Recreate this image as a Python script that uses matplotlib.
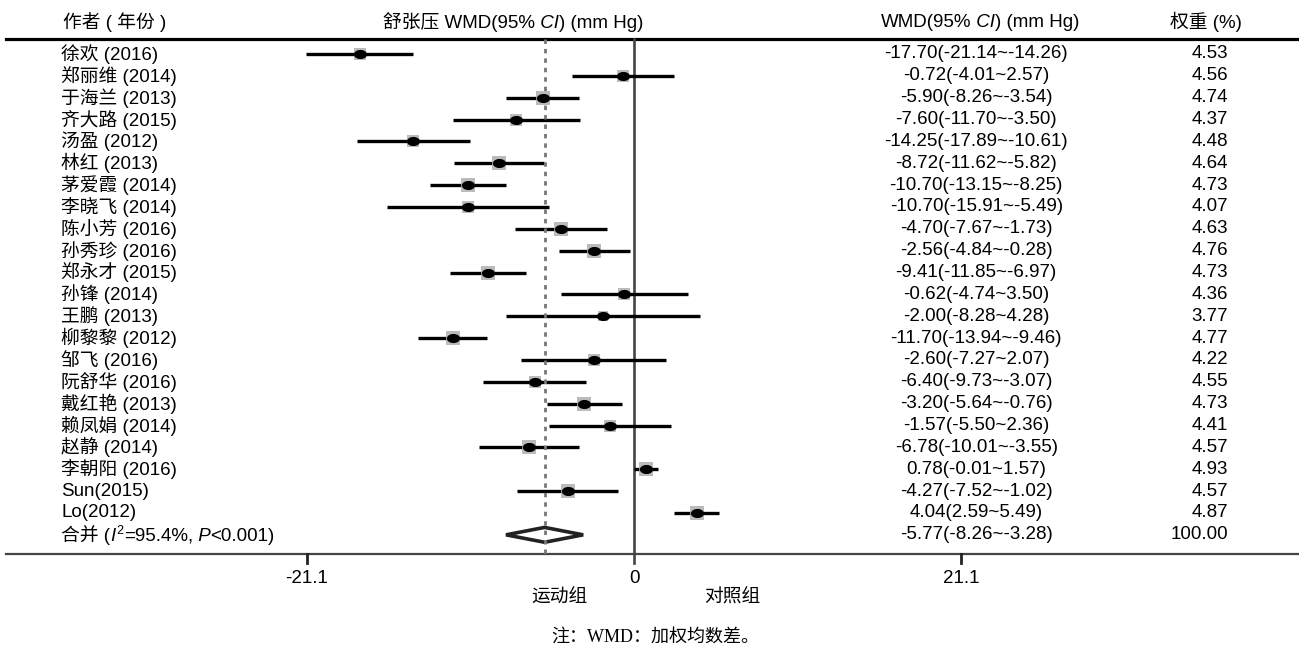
import numpy as np
import matplotlib
matplotlib.use("Agg")
import matplotlib.pyplot as plt
import matplotlib.path as mpath
import matplotlib.transforms as mtransforms

plt.rcParams['font.family'] = ['Liberation Sans', 'Noto Sans CJK SC']

studies = ['徐欢 (2016)', '郑丽维 (2014)', '于海兰 (2013)', '齐大路 (2015)',
           '汤盈 (2012)', '林红 (2013)', '茅爱霞 (2014)', '李晓飞 (2014)',
           '陈小芳 (2016)', '孙秀珍 (2016)', '郑永才 (2015)', '孙锋 (2014)',
           '王鹏 (2013)', '柳黎黎 (2012)', '邹飞 (2016)', '阮舒华 (2016)',
           '戴红艳 (2013)', '赖凤娟 (2014)', '赵静 (2014)', '李朝阳 (2016)',
           'Sun(2015)', 'Lo(2012)']
wmd = [-17.70, -0.72, -5.90, -7.60, -14.25, -8.72, -10.70, -10.70, -4.70, -2.56, -9.41,
       -0.62, -2.00, -11.70, -2.60, -6.40, -3.20, -1.57, -6.78, 0.78, -4.27, 4.04]
ci_lo = [-21.14, -4.01, -8.26, -11.70, -17.89, -11.62, -13.15, -15.91, -7.67, -4.84, -11.85,
         -4.74, -8.28, -13.94, -7.27, -9.73, -5.64, -5.50, -10.01, -0.01, -7.52, 2.59]
ci_hi = [-14.26, 2.57, -3.54, -3.50, -10.61, -5.82, -8.25, -5.49, -1.73, -0.28, -6.97,
         3.50, 4.28, -9.46, 2.07, -3.07, -0.76, 2.36, -3.55, 1.57, -1.02, 5.49]
weights = [4.53, 4.56, 4.74, 4.37, 4.48, 4.64, 4.73, 4.07, 4.63, 4.76, 4.73,
           4.36, 3.77, 4.77, 4.22, 4.55, 4.73, 4.41, 4.57, 4.93, 4.57, 4.87]

pooled_wmd = -5.77
pooled_lo = -8.26
pooled_hi = -3.28
pooled_weight = 100.00

xticks = [-21.1, 0, 21.1]

FS = 13.5

fig = plt.figure(figsize=(12.99, 6.45), dpi=100)
ax = fig.add_axes([0, 0, 1, 1])
ax.set_xlim(-40.91, 42.91)
ax.set_ylim(27.04, -2.47)
ax.axis('off')

n = len(studies)
rows = np.arange(n)
pooled_row = n
top_rule = -0.686
bottom_rule = 22.87
tick_end = 23.27

mixed = mtransforms.blended_transform_factory(ax.transAxes, ax.transData)


def rich_text(x, y, parts, transform):
    # chain text pieces left to right so fonts/styles can change mid-line
    s, kw = parts[0]
    prev = ax.text(x, y, s, transform=transform, va='center', ha='left',
                   fontsize=FS, **kw)
    base = prev
    for s, kw in parts[1:]:
        kw = dict(kw)
        size = kw.pop('fontsize', FS)
        raise_pt = kw.pop('raise_pt', 0)
        if raise_pt:
            prev = ax.annotate(s, xy=(1, 0), xycoords=prev, xytext=(1, raise_pt),
                               textcoords='offset points', va='bottom', ha='left',
                               fontsize=size, **kw)
        else:
            prev = ax.annotate(s, xy=(1, 0), xycoords=(prev, base), va='bottom',
                               ha='left', fontsize=size, **kw)
    return prev


# header
ax.text(0.0485, -1.46, '作者 ( 年份 )', transform=mixed, va='center', ha='left', fontsize=FS)
rich_text(0.2948, -1.46, [('舒张压 WMD(95%', {}), (' CI', {'style': 'italic'}),
                          (') (mm Hg)', {})], mixed)
rich_text(0.678, -1.46, [('WMD(95%', {}), (' CI', {'style': 'italic'}),
                         (') (mm Hg)', {})], mixed)
ax.text(0.9285, -1.46, '权重 (%)', transform=mixed, va='center', ha='center', fontsize=FS)

# rules
ax.axhline(top_rule, xmin=0.005, xmax=1.0, color='black', lw=2.3)
ax.axhline(bottom_rule, xmin=0.005, xmax=1.0, color='#444444', lw=1.6)

# null line and pooled estimate line
ax.plot([0, 0], [top_rule, tick_end], color='#444444', lw=1.9, zorder=2)
ax.plot([pooled_wmd, pooled_wmd], [top_rule, bottom_rule], color='#777777', lw=2.0,
        linestyle=(0, (1.6, 1.8)), zorder=4)

# study CIs, weight boxes and point estimates
t = np.linspace(0, 2 * np.pi, 41)
dot = mpath.Path(np.column_stack([1.45 * np.cos(t), np.sin(t)]))
for r, m, lo, hi, w in zip(rows, wmd, ci_lo, ci_hi, weights):
    ax.plot([lo, hi], [r, r], color='black', lw=2.4, solid_capstyle='butt', zorder=3)
    ax.plot(m, r, marker='s', color='#b0b0b0', markersize=w * 2.05, alpha=0.85,
            markeredgewidth=0, zorder=5)
    ax.plot(m, r, marker=dot, color='black', markersize=9.5, markeredgewidth=0, zorder=6)

# pooled diamond
h = 0.34
ax.fill([pooled_lo, pooled_wmd, pooled_hi, pooled_wmd],
        [pooled_row, pooled_row - h, pooled_row, pooled_row + h],
        facecolor='none', edgecolor='#222222', lw=2.6, joinstyle='miter', zorder=3)

# left column: study labels
for r, name in zip(rows, studies):
    ax.text(0.047, r, name, transform=mixed, va='center', ha='left', fontsize=FS)
rich_text(0.047, pooled_row, [('合并 (', {}), ('I', {'style': 'italic'}),
                              ('2', {'fontsize': 9, 'raise_pt': 5.5}),
                              ('=95.4%,', {}), (' P', {'style': 'italic'}),
                              ('<0.001)', {})], mixed)

# right columns: effect sizes and weights
for r, m, lo, hi, w in zip(rows, wmd, ci_lo, ci_hi, weights):
    ax.text(0.7515, r, f'{m:.2f}({lo:.2f}~{hi:.2f})', transform=mixed,
            va='center', ha='center', fontsize=FS)
    ax.text(0.9455, r, f'{w:.2f}', transform=mixed, va='center', ha='right', fontsize=FS)
ax.text(0.7515, pooled_row, f'{pooled_wmd:.2f}({pooled_lo:.2f}~{pooled_hi:.2f})',
        transform=mixed, va='center', ha='center', fontsize=FS)
ax.text(0.9455, pooled_row, f'{pooled_weight:.2f}', transform=mixed,
        va='center', ha='right', fontsize=FS)

# x axis ticks
for xt in xticks:
    if xt != 0:
        ax.plot([xt, xt], [bottom_rule, tick_end], color='#222222', lw=2.0)
    ax.text(xt, 24.0, f'{xt:g}', va='center', ha='center', fontsize=FS)

ax.text(0.431, 24.88, '运动组', transform=mixed, va='center', ha='center', fontsize=FS)
ax.text(0.564, 24.88, '对照组', transform=mixed, va='center', ha='center', fontsize=FS)

ax.text(0.5045, 26.67, '注：WMD：加权均数差。', transform=mixed, va='center', ha='center',
        fontsize=13, family=['Liberation Serif', 'Noto Sans CJK SC'])

fig.savefig('out.png', dpi=100)
